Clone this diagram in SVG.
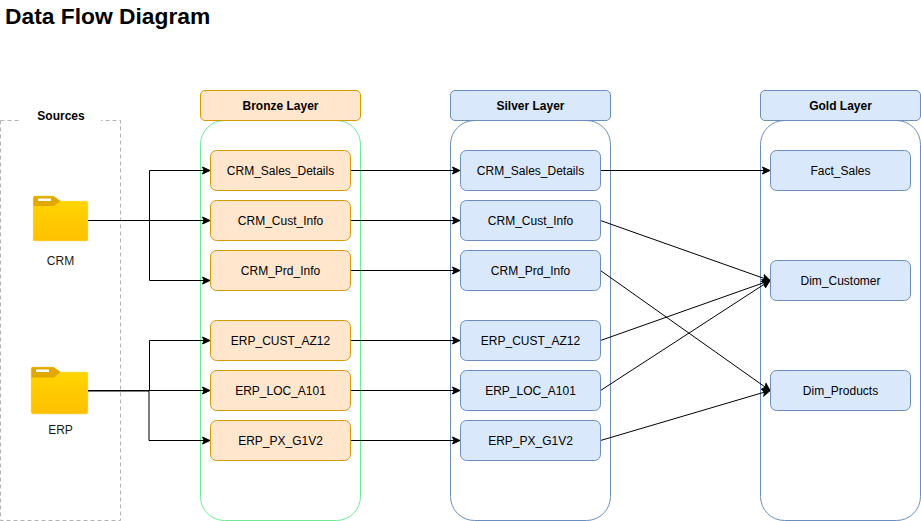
<svg xmlns="http://www.w3.org/2000/svg" width="921" height="521" viewBox="0 0 921 521">
<style>
text{font-family:"Liberation Sans",Arial,sans-serif;fill:#000;text-anchor:middle}
.n{font-size:12px}
.h{font-size:12px;font-weight:bold}
.b{fill:#ffe6cc;stroke:#d79b00}
.s{fill:#dae8fc;stroke:#6c8ebf}
.c{fill:#fff;stroke:#6c8ebf}
.e{fill:none;stroke:#000;stroke-width:1;marker-end:url(#a)}
</style>
<defs>
<marker id="a" markerUnits="userSpaceOnUse" markerWidth="10" markerHeight="10" refX="8" refY="5" orient="auto"><path d="M0.5 1.5L8 5L0.5 8.5L2.2 5Z" fill="#000" stroke="#000"/></marker>
<linearGradient id="f" x1="0" y1="0" x2="0" y2="1"><stop offset="0" stop-color="#ffd700"/><stop offset="1" stop-color="#ffc000"/></linearGradient>
</defs>
<rect width="921" height="521" fill="#fff"/>
<text x="5" y="24" style="font-size:22.800px;font-weight:bold;text-anchor:start">Data Flow Diagram</text>

<g id="sources">
<rect x="0.500" y="120.500" width="120" height="400" fill="#fff" stroke="#b3b3b3" stroke-dasharray="4 3"/>
<rect x="21" y="106" width="80" height="18" fill="#fff"/>
<text class="h" x="61" y="120">Sources</text>
</g>

<g id="bronze-layer">
<rect x="200.500" y="120.500" width="160" height="400" rx="24" fill="#fff" stroke="#70e898"/>
<rect class="b" x="200.500" y="90.500" width="160" height="30" rx="4.500"/>
<text class="h" x="280.500" y="110">Bronze Layer</text>
</g>
<g id="silver-layer">
<rect class="c" x="450.500" y="120.500" width="160" height="400" rx="24"/>
<rect class="s" x="450.500" y="90.500" width="160" height="30" rx="4.500"/>
<text class="h" x="530.500" y="110">Silver Layer</text>
</g>
<g id="gold-layer">
<rect class="c" x="760.500" y="120.500" width="160" height="400" rx="24"/>
<rect class="s" x="760.500" y="90.500" width="160" height="30" rx="4.500"/>
<text class="h" x="840.500" y="110">Gold Layer</text>
</g>

<g id="crm-source">
<path d="M33 197.500Q33 196 34.500 196H53.500L60.500 201H86.500Q88 201 88 202.500V239.500Q88 241 86.500 241H34.500Q33 241 33 239.500Z" fill="url(#f)" stroke="#ffe07a" stroke-width="0.500"/>
<path d="M33.500 206V197.500Q33.500 196.300 35 196.300H53.500L60.500 201L54 206Z" fill="#e0a800"/>
<rect x="38" y="198.500" width="13" height="2.500" fill="#fff"/>
<text class="n" x="60.500" y="265" style="fill:#1a1a1a">CRM</text>
</g>
<g id="erp-source">
<path d="M31 369Q31 367 33 367H53.500L60.500 372H86.500Q88 372 88 373.500V412Q88 414 86.500 414H33Q31 414 31 412Z" fill="url(#f)" stroke="#ffe07a" stroke-width="0.500"/>
<path d="M31.500 377.500V368.500Q31.500 367.300 33 367.300H53.500L60.500 372L54 377.500Z" fill="#e0a800"/>
<rect x="36" y="369.500" width="13" height="2.500" fill="#fff"/>
<text class="n" x="60.500" y="434" style="fill:#1a1a1a">ERP</text>
</g>

<g id="connectors">
<path class="e" d="M88 220.500H149.500V170.500H210"/>
<path class="e" d="M88 220.500H210"/>
<path class="e" d="M88 220.500H149.500V280.500H210"/>
<path class="e" d="M88 390.500H149.500V340.500H210"/>
<path class="e" d="M88 390.500H210"/>
<path class="e" d="M88 391H149V440.500H210"/>
<path class="e" d="M350.500 170.500H460"/>
<path class="e" d="M350.500 220.500H460"/>
<path class="e" d="M350.500 270.500H460"/>
<path class="e" d="M350.500 340.500H460"/>
<path class="e" d="M350.500 390.500H460"/>
<path class="e" d="M350.500 440.500H460"/>
<path class="e" d="M600.500 170.500H770"/>
<path class="e" d="M600.500 220.500L770 280.500"/>
<path class="e" d="M600.500 340.500L770 280.500"/>
<path class="e" d="M600.500 390.500L770 280.500"/>
<path class="e" d="M600.500 270.500L770 390.500"/>
<path class="e" d="M600.500 440.500L770 390.500"/>
</g>

<g id="b1"><rect class="b" x="210.500" y="150.500" width="140" height="40" rx="6"/><text class="n" x="280.500" y="175">CRM_Sales_Details</text></g>
<g id="b2"><rect class="b" x="210.500" y="200.500" width="140" height="40" rx="6"/><text class="n" x="280.500" y="225">CRM_Cust_Info</text></g>
<g id="b3"><rect class="b" x="210.500" y="250.500" width="140" height="40" rx="6"/><text class="n" x="280.500" y="275">CRM_Prd_Info</text></g>
<g id="b4"><rect class="b" x="210.500" y="320.500" width="140" height="40" rx="6"/><text class="n" x="280.500" y="345">ERP_CUST_AZ12</text></g>
<g id="b5"><rect class="b" x="210.500" y="370.500" width="140" height="40" rx="6"/><text class="n" x="280.500" y="395">ERP_LOC_A101</text></g>
<g id="b6"><rect class="b" x="210.500" y="420.500" width="140" height="40" rx="6"/><text class="n" x="280.500" y="445">ERP_PX_G1V2</text></g>

<g id="s1"><rect class="s" x="460.500" y="150.500" width="140" height="40" rx="6"/><text class="n" x="530.500" y="175">CRM_Sales_Details</text></g>
<g id="s2"><rect class="s" x="460.500" y="200.500" width="140" height="40" rx="6"/><text class="n" x="530.500" y="225">CRM_Cust_Info</text></g>
<g id="s3"><rect class="s" x="460.500" y="250.500" width="140" height="40" rx="6"/><text class="n" x="530.500" y="275">CRM_Prd_Info</text></g>
<g id="s4"><rect class="s" x="460.500" y="320.500" width="140" height="40" rx="6"/><text class="n" x="530.500" y="345">ERP_CUST_AZ12</text></g>
<g id="s5"><rect class="s" x="460.500" y="370.500" width="140" height="40" rx="6"/><text class="n" x="530.500" y="395">ERP_LOC_A101</text></g>
<g id="s6"><rect class="s" x="460.500" y="420.500" width="140" height="40" rx="6"/><text class="n" x="530.500" y="445">ERP_PX_G1V2</text></g>

<g id="g1"><rect class="s" x="770.500" y="150.500" width="140" height="40" rx="6"/><text class="n" x="840.500" y="175">Fact_Sales</text></g>
<g id="g2"><rect class="s" x="770.500" y="260.500" width="140" height="40" rx="6"/><text class="n" x="840.500" y="285">Dim_Customer</text></g>
<g id="g3"><rect class="s" x="770.500" y="370.500" width="140" height="40" rx="6"/><text class="n" x="840.500" y="395">Dim_Products</text></g>
</svg>
